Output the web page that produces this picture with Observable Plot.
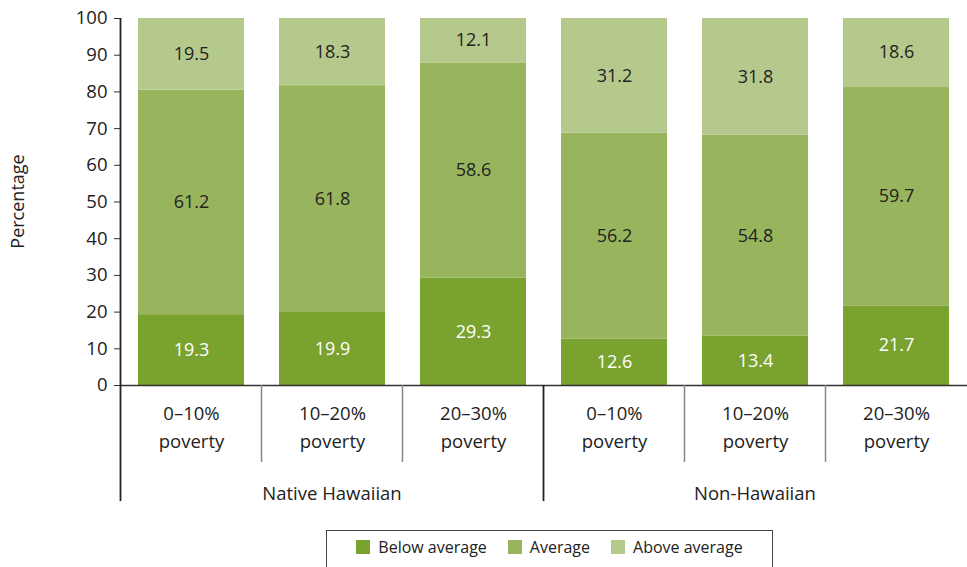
<!DOCTYPE html>
<html>
<head>
<meta charset="utf-8">
<script src="https://cdn.jsdelivr.net/npm/d3@7"></script>
<script src="https://cdn.jsdelivr.net/npm/@observablehq/plot@0.6"></script>
<style>
  html, body { margin: 0; padding: 0; background: white; }
  body { width: 967px; height: 567px; overflow: hidden; position: relative; font-family: "Open Sans", sans-serif; color: #222; }
  #legend { position: absolute; left: 326px; top: 530px; width: 447px; height: 45px; border: 1.5px solid #444; box-sizing: border-box;
            display: flex; align-items: flex-start; padding-top: 5px; justify-content: center; gap: 21px; font-size: 16px; }
  #legend .item { display: flex; align-items: center; gap: 8px; }
  #legend .sw { width: 14px; height: 14px; display: inline-block; }
</style>
</head>
<body>
<div id="chart"></div>
<div id="legend"></div>
<script>
const groups = ["Native Hawaiian", "Non-Hawaiian"];
const poverty = ["0–10%", "10–20%", "20–30%"];
const levels = ["Below average", "Average", "Above average"];
const belowAvg = [19.3, 19.9, 29.3, 12.6, 13.4, 21.7];
const average = [61.2, 61.8, 58.6, 56.2, 54.8, 59.7];
const aboveAvg = [19.5, 18.3, 12.1, 31.2, 31.8, 18.6];
const yTicks = [0, 10, 20, 30, 40, 50, 60, 70, 80, 90, 100];
const colors = ["#7aa22e", "#98b55d", "#b6c98d"];

const series = [belowAvg, average, aboveAvg];
const keys = [];
const data = [];
groups.forEach((g, gi) => {
  poverty.forEach((p, pi) => {
    const key = g + "|" + p;
    keys.push(key);
    const idx = gi * poverty.length + pi;
    levels.forEach((lv, li) => {
      data.push({key, group: g, pov: p, level: lv, value: series[li][idx]});
    });
  });
});

const font = "'Open Sans', sans-serif";
const plot = Plot.plot({
  width: 967,
  height: 528,
  marginLeft: 120,
  marginRight: 0,
  marginTop: 18,
  marginBottom: 143,
  style: {fontFamily: font, fontSize: "18px", color: "#222", background: "white"},
  x: {domain: keys, paddingInner: 0.25, paddingOuter: 0.115},
  y: {domain: [0, 100]},
  color: {domain: levels, range: colors},
  marks: [
    Plot.barY(data, {x: "key", y: "value", fill: "level", z: "level"}),
    Plot.text(data, Plot.stackY({
      x: "key", y: "value", z: "level",
      text: d => d.value.toFixed(1),
      fill: d => d.level === levels[0] ? "white" : "#222",
      fontSize: 18
    })),
    Plot.axisY({ticks: yTicks, tickSize: 6, tickPadding: 7, label: null, fontSize: 18.5, stroke: "#333"}),
    Plot.ruleY([0], {stroke: "#333", strokeWidth: 1.5}),
    Plot.axisX({
      tickSize: 0, tickPadding: 14.5, lineHeight: 1.51, fontSize: 18.5, label: null,
      tickFormat: k => k.split("|")[1] + "\npoverty"
    })
  ]
});
document.getElementById("chart").appendChild(plot);

// Decorations using the plot's scales
const svg = d3.select(plot);
const xs = plot.scale("x");
const ys = plot.scale("y");
const step = xs.step, bw = xs.bandwidth;
const x0 = xs.apply(keys[0]) - (step - bw) / 2;  // left edge of first slot
const yBase = ys.apply(0);
const yTop = ys.apply(100);
const gEl = svg.append("g");
// y-axis line extended below
gEl.append("line").attr("x1", x0).attr("x2", x0).attr("y1", yTop).attr("y2", 501)
  .attr("stroke", "#222").attr("stroke-width", 1.8);
// separators
for (let i = 1; i < keys.length; i++) {
  const xb = xs.apply(keys[i]) - (step - bw) / 2;
  const isGroup = i % poverty.length === 0;
  gEl.append("line").attr("x1", xb).attr("x2", xb).attr("y1", yBase)
    .attr("y2", isGroup ? 501 : 462)
    .attr("stroke", isGroup ? "#222" : "#888").attr("stroke-width", isGroup ? 1.8 : 1.5);
}
// group labels
groups.forEach((g, gi) => {
  const first = keys[gi * poverty.length];
  const last = keys[gi * poverty.length + poverty.length - 1];
  const a = xs.apply(first) - (step - bw) / 2;
  const b = xs.apply(last) + bw + (step - bw) / 2;
  gEl.append("text").attr("x", (a + b) / 2).attr("y", 495)
    .attr("text-anchor", "middle").attr("dominant-baseline", "middle")
    .attr("font-size", 18.5).attr("fill", "#222").text(g);
});
// y label
gEl.append("text").attr("transform", `translate(19,${(yTop + yBase) / 2}) rotate(-90)`)
  .attr("text-anchor", "middle").attr("dominant-baseline", "middle")
  .attr("font-size", 18).attr("fill", "#222").text("Percentage");

// legend
const legend = d3.select("#legend");
levels.forEach((lv, i) => {
  const it = legend.append("div").attr("class", "item");
  it.append("span").attr("class", "sw").style("background", colors[i]);
  it.append("span").text(lv);
});
</script>
</body>
</html>
